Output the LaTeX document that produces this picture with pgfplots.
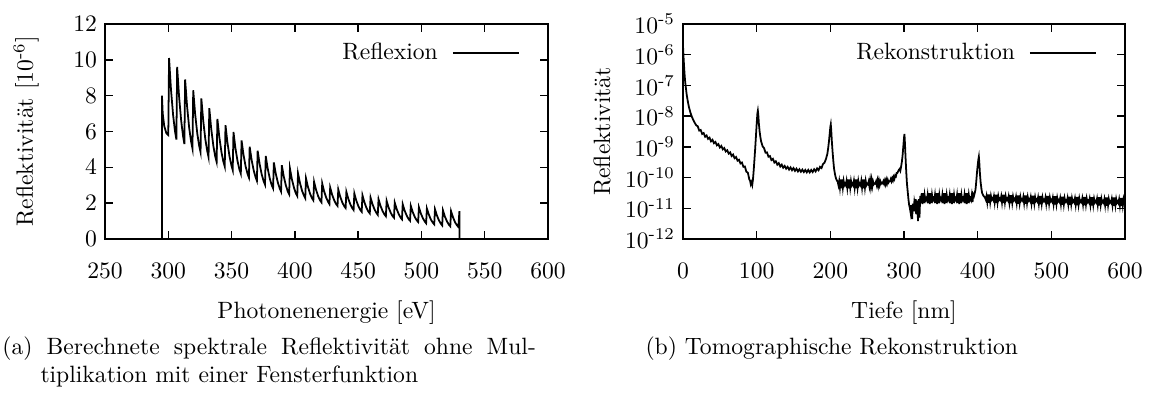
\documentclass[border=0pt]{standalone}
\usepackage{pgfplots}
\pgfplotsset{compat=1.18}
\pgfplotsset{gp/.style={
  scale only axis,
  axis line style={line width=0.6pt},
  every tick/.style={black, line width=0.6pt},
  major tick length=3.4pt,
  tick align=inside,
  xtick pos=both, ytick pos=both,
  yticklabel style={inner xsep=0pt, xshift=-3.2pt},
  xticklabel style={yshift=-6.8pt},
  xlabel style={at={(axis description cs:0.5,0)}, anchor=base, yshift=-33.5pt},
  legend style={draw=none, fill=none, inner sep=0pt, outer sep=0pt,
    at={(axis description cs:0.9365,0.865)}, anchor=east,
    nodes={inner sep=0pt}},
  legend plot pos=right,
  legend image code/.code={\path (0pt,0pt); \draw[##1] (6pt,0pt) -- (34pt,0pt);},
}}
\begin{document}
\begin{tikzpicture}
\useasboundingbox (0pt,0pt) rectangle (488.95pt,-166.94pt);
\begin{axis}[gp, at={(44.49pt,-101.26pt)}, anchor=south west,
  width=187.7pt, height=91.1pt,
  xmin=250, xmax=600, ymin=0, ymax=12,
  xtick={250,300,...,600}, ytick={0,2,...,12},
  xlabel={Photonenenergie [eV]},
  ylabel={Reflektivität [10\textsuperscript{-6}]},
  ylabel style={at={(axis description cs:-0.1783,0.5)}, anchor=center},
]
\addplot[black, line width=0.75pt] table[row sep=\\] {
x y\\
295 0\\ 295 8.0\\ 295.6 7.0\\ 296.8 6.3\\ 298.5 5.9\\
300.0 5.8\\ 300.6 10.1\\ 302.1 8.37\\ 303.8 6.92\\ 305.3 6.01\\
306.4 5.55\\ 307.0 9.6\\ 308.5 7.97\\ 310.2 6.59\\ 311.7 5.73\\
312.7 5.3\\ 313.3 8.9\\ 314.8 7.44\\ 316.5 6.21\\ 318.0 5.44\\
319.1 5.05\\ 319.7 8.3\\ 321.2 6.99\\ 322.9 5.89\\ 324.4 5.20\\
325.5 4.85\\ 326.1 7.85\\ 327.6 6.60\\ 329.3 5.55\\ 330.8 4.90\\
331.8 4.57\\ 332.4 7.3\\ 333.9 6.16\\ 335.6 5.20\\ 337.1 4.60\\
338.2 4.3\\ 338.8 6.7\\ 340.3 5.69\\ 342.0 4.85\\ 343.5 4.32\\
344.6 4.05\\ 345.2 6.35\\ 346.7 5.40\\ 348.4 4.60\\ 349.9 4.10\\
350.9 3.85\\ 351.5 5.97\\ 353.0 5.09\\ 354.7 4.35\\ 356.2 3.88\\
357.3 3.65\\ 357.9 5.5\\ 359.4 4.71\\ 361.1 4.05\\ 362.6 3.64\\
363.7 3.43\\ 364.3 5.15\\ 365.8 4.43\\ 367.5 3.82\\ 369.0 3.44\\
370.0 3.25\\ 370.6 4.93\\ 372.1 4.21\\ 373.8 3.61\\ 375.3 3.23\\
376.4 3.04\\ 377.0 4.63\\ 378.5 3.95\\ 380.2 3.37\\ 381.7 3.01\\
382.8 2.83\\ 383.4 4.27\\ 384.9 3.65\\ 386.6 3.14\\ 388.1 2.81\\
389.1 2.65\\ 389.7 4.12\\ 391.2 3.50\\ 392.9 2.99\\ 394.4 2.66\\
395.5 2.5\\ 396.1 3.94\\ 397.6 3.35\\ 399.3 2.86\\ 400.8 2.55\\
401.9 2.4\\ 402.5 3.66\\ 404.0 3.14\\ 405.7 2.69\\ 407.2 2.42\\
408.2 2.28\\ 408.8 3.38\\ 410.3 2.92\\ 412.0 2.53\\ 413.5 2.28\\
414.6 2.16\\ 415.2 3.19\\ 416.7 2.76\\ 418.4 2.39\\ 419.9 2.16\\
421.0 2.05\\ 421.6 3.1\\ 423.1 2.66\\ 424.8 2.30\\ 426.3 2.07\\
427.3 1.95\\ 427.9 2.87\\ 429.4 2.48\\ 431.1 2.16\\ 432.6 1.95\\
433.7 1.85\\ 434.3 2.76\\ 435.8 2.37\\ 437.5 2.04\\ 439.0 1.83\\
440.1 1.73\\ 440.7 2.63\\ 442.2 2.25\\ 443.9 1.92\\ 445.4 1.72\\
446.4 1.62\\ 447.0 2.54\\ 448.5 2.15\\ 450.2 1.83\\ 451.7 1.62\\
452.8 1.52\\ 453.4 2.44\\ 454.9 2.06\\ 456.6 1.73\\ 458.1 1.53\\
459.2 1.43\\ 459.8 2.31\\ 461.3 1.95\\ 463.0 1.64\\ 464.5 1.45\\
465.5 1.35\\ 466.1 2.22\\ 467.6 1.86\\ 469.3 1.56\\ 470.8 1.37\\
471.9 1.27\\ 472.5 2.13\\ 474.0 1.77\\ 475.7 1.47\\ 477.2 1.28\\
478.3 1.19\\ 478.9 2.03\\ 480.4 1.68\\ 482.1 1.38\\ 483.6 1.19\\
484.6 1.1\\ 485.2 1.94\\ 486.7 1.59\\ 488.4 1.30\\ 489.9 1.11\\
491.0 1.02\\ 491.6 1.85\\ 493.1 1.51\\ 494.8 1.22\\ 496.3 1.04\\
497.4 0.95\\ 498.0 1.77\\ 499.5 1.43\\ 501.2 1.15\\ 502.7 0.97\\
503.7 0.88\\ 504.3 1.7\\ 505.8 1.37\\ 507.5 1.08\\ 509.0 0.91\\
510.1 0.82\\ 510.7 1.66\\ 512.2 1.32\\ 513.9 1.03\\ 515.4 0.85\\
516.4 0.76\\ 517.0 1.6\\ 518.5 1.26\\ 520.2 0.98\\ 521.7 0.80\\
522.8 0.71\\ 523.4 1.55\\ 524.9 1.22\\ 526.6 0.93\\ 528.1 0.76\\
529.2 0.67\\ 530.0 1.55\\ 530.0 0\\
};
\legend{Reflexion}
\end{axis}
\begin{axis}[gp, at={(289.39pt,-101.26pt)}, anchor=south west,
  width=187.28pt, height=91.1pt,
  xmin=0, xmax=600, ymode=log, ymin=1e-12, ymax=1e-5,
  xtick={0,100,...,600},
  ytick={1e-12,1e-11,1e-10,1e-9,1e-8,1e-7,1e-6,1e-5},
  yticklabels={10\textsuperscript{-12},10\textsuperscript{-11},10\textsuperscript{-10},10\textsuperscript{-9},10\textsuperscript{-8},10\textsuperscript{-7},10\textsuperscript{-6},10\textsuperscript{-5}},
  yminorticks=false,
  xlabel={Tiefe [nm]},
  ylabel={Reflektivität},
  ylabel style={at={(axis description cs:-0.1833,0.5)}, anchor=center},
]
\addplot[black, line width=0.75pt] table[row sep=\\, x=x, y expr={10^(\thisrow{e})}] {
x e\\
0 -5.72\\ 1 -6.20\\ 2 -6.60\\ 3 -6.90\\ 4 -7.10\\ 5 -7.30\\ 6 -7.45\\ 7 -7.58\\ 8 -7.70\\
10 -7.88\\ 12 -8.02\\ 14 -8.13\\ 16 -8.22\\ 18 -8.30\\
20 -8.33\\ 22 -8.47\\ 24 -8.45\\ 26 -8.58\\ 28 -8.55\\ 30 -8.67\\ 32 -8.63\\ 34 -8.74\\ 36 -8.70\\ 38 -8.82\\
40 -8.77\\ 42 -8.88\\ 44 -8.84\\ 46 -8.95\\ 48 -8.91\\ 50 -9.02\\ 52 -8.97\\ 54 -9.08\\ 56 -9.04\\ 58 -9.15\\
60 -9.11\\ 62 -9.22\\ 64 -9.18\\ 66 -9.30\\ 68 -9.25\\ 70 -9.37\\ 72 -9.33\\ 74 -9.45\\ 76 -9.42\\ 78 -9.54\\
80 -9.51\\ 82 -9.65\\ 84 -9.64\\ 86 -9.81\\ 88 -9.84\\ 90 -10.06\\ 91 -10.10\\ 92 -10.22\\ 93 -10.15\\ 94 -10.24\\
95 -10.05\\ 96 -9.75\\ 97 -9.40\\ 98 -9.05\\ 99 -8.65\\ 100 -8.25\\ 101 -7.90\\ 101.6 -7.82\\ 102.2 -7.95\\
103 -8.25\\ 104 -8.50\\ 105 -8.68\\ 106 -8.82\\ 108 -8.98\\
110 -9.04\\ 112 -9.19\\ 114 -9.18\\ 116 -9.32\\ 118 -9.30\\ 120 -9.43\\ 122 -9.39\\ 124 -9.51\\ 126 -9.47\\ 128 -9.58\\
130 -9.53\\ 132 -9.64\\ 134 -9.58\\ 136 -9.68\\ 138 -9.62\\ 140 -9.71\\ 142 -9.65\\ 144 -9.74\\ 146 -9.67\\ 148 -9.76\\
150 -9.69\\ 152 -9.78\\ 154 -9.71\\ 156 -9.80\\ 158 -9.73\\ 160 -9.81\\ 162 -9.74\\ 164 -9.82\\ 166 -9.75\\ 168 -9.83\\
170 -9.75\\ 172 -9.83\\ 174 -9.75\\ 176 -9.82\\ 178 -9.73\\ 180 -9.80\\ 182 -9.70\\ 184 -9.76\\ 186 -9.65\\ 188 -9.69\\
190 -9.56\\ 192 -9.52\\ 194 -9.40\\ 196 -9.22\\ 197 -9.05\\ 198 -8.85\\ 199 -8.60\\ 200 -8.35\\ 200.6 -8.27\\ 201.2 -8.45\\
202 -8.80\\ 203 -9.15\\ 204 -9.45\\ 205 -9.70\\ 206 -9.85\\ 207 -9.97\\ 208 -10.05\\ 209 -10.10\\ 210 -10.14\\
211 -10.25\\ 212 -10.11\\ 213 -10.32\\ 214 -10.06\\ 215 -10.35\\ 216 -10.06\\ 217 -10.32\\ 218 -10.11\\ 219 -10.25\\ 220 -10.20\\
221 -10.25\\ 222 -10.11\\ 223 -10.32\\ 224 -10.06\\ 225 -10.35\\ 226 -10.06\\ 227 -10.32\\ 228 -10.11\\ 229 -10.25\\ 230 -10.20\\
231 -10.25\\ 232 -10.11\\ 233 -10.32\\ 234 -10.06\\ 235 -10.35\\ 236 -10.06\\ 237 -10.32\\ 238 -10.11\\ 239 -10.25\\ 240 -10.20\\
241 -10.25\\ 242 -10.11\\ 243 -10.32\\ 244 -10.06\\ 245 -10.35\\ 246 -10.06\\ 247 -10.32\\ 248 -10.11\\ 249 -10.25\\ 250 -10.20\\
251 -10.22\\ 252 -10.13\\ 253 -10.28\\ 254 -10.09\\ 255 -10.30\\ 256 -10.09\\ 257 -10.28\\ 258 -10.13\\ 259 -10.22\\ 260 -10.19\\
261 -10.20\\ 262 -10.13\\ 263 -10.24\\ 264 -10.10\\ 265 -10.26\\ 266 -10.10\\ 267 -10.24\\ 268 -10.13\\ 269 -10.20\\ 270 -10.17\\
271 -10.19\\ 272 -10.12\\ 273 -10.20\\ 274 -10.10\\ 275 -10.21\\ 276 -10.08\\ 277 -10.19\\ 278 -10.08\\ 279 -10.16\\ 280 -10.12\\
281 -10.12\\ 282 -10.05\\ 283 -10.12\\ 284 -10.02\\ 285 -10.09\\ 286 -9.98\\ 287 -10.04\\ 288 -9.93\\ 289 -9.96\\ 290 -9.85\\
291 -9.85\\ 292 -9.80\\ 293 -9.75\\ 294 -9.72\\ 295 -9.78\\ 296 -9.65\\ 297 -9.50\\ 298 -9.30\\ 299 -9.00\\ 300 -8.70\\
300.6 -8.58\\ 301.2 -8.85\\ 302 -9.30\\ 303 -9.80\\ 304 -10.20\\ 305 -10.45\\ 306 -10.70\\ 307 -10.90\\ 308 -11.00\\ 309 -11.15\\
310 -10.90\\ 311 -11.35\\ 312 -10.85\\ 313 -11.10\\ 314 -10.80\\ 315 -10.95\\ 316 -10.70\\ 317 -11.20\\ 318 -10.75\\ 319 -11.42\\
320 -10.70\\ 321 -11.30\\ 322 -10.60\\ 323 -10.83\\ 324 -10.51\\ 325 -10.86\\ 326 -10.51\\ 327 -10.83\\ 328 -10.57\\ 329 -10.74\\ 330 -10.68\\
331 -10.74\\ 332 -10.57\\ 333 -10.83\\ 334 -10.51\\ 335 -10.86\\ 336 -10.51\\ 337 -10.83\\ 338 -10.57\\ 339 -10.74\\ 340 -10.68\\
341 -10.74\\ 342 -10.57\\ 343 -10.83\\ 344 -10.51\\ 345 -10.86\\ 346 -10.51\\ 347 -10.83\\ 348 -10.57\\ 349 -10.74\\ 350 -10.68\\
351 -10.74\\ 352 -10.57\\ 353 -10.83\\ 354 -10.51\\ 355 -10.86\\ 356 -10.51\\ 357 -10.83\\ 358 -10.57\\ 359 -10.74\\ 360 -10.68\\
361 -10.74\\ 362 -10.57\\ 363 -10.83\\ 364 -10.51\\ 365 -10.86\\ 366 -10.51\\ 367 -10.83\\ 368 -10.57\\ 369 -10.74\\ 370 -10.68\\
371 -10.74\\ 372 -10.57\\ 373 -10.83\\ 374 -10.51\\ 375 -10.86\\ 376 -10.51\\ 377 -10.83\\ 378 -10.57\\ 379 -10.74\\ 380 -10.68\\
381 -10.74\\ 382 -10.57\\ 383 -10.83\\ 384 -10.51\\ 385 -10.86\\ 386 -10.51\\ 387 -10.83\\ 388 -10.57\\ 389 -10.74\\ 390 -10.68\\
391 -10.74\\ 392 -10.57\\ 393 -10.80\\ 394 -10.55\\ 395 -10.60\\ 396 -10.50\\ 397 -10.40\\ 398 -10.15\\ 399 -9.85\\ 400 -9.60\\
401 -9.40\\ 401.6 -9.32\\ 402.2 -9.50\\ 403 -9.85\\ 404 -10.15\\ 405 -10.35\\ 406 -10.50\\ 407 -10.55\\ 408 -10.60\\ 409 -10.62\\ 410 -10.66\\
411 -10.72\\ 412 -10.60\\ 413 -10.79\\ 414 -10.55\\ 415 -10.82\\ 416 -10.55\\ 417 -10.79\\ 418 -10.60\\ 419 -10.72\\ 420 -10.68\\
421 -10.73\\ 422 -10.61\\ 423 -10.80\\ 424 -10.56\\ 425 -10.83\\ 426 -10.56\\ 427 -10.80\\ 428 -10.61\\ 429 -10.73\\ 430 -10.69\\
431 -10.73\\ 432 -10.61\\ 433 -10.80\\ 434 -10.56\\ 435 -10.83\\ 436 -10.56\\ 437 -10.80\\ 438 -10.61\\ 439 -10.73\\ 440 -10.69\\
441 -10.74\\ 442 -10.62\\ 443 -10.81\\ 444 -10.57\\ 445 -10.84\\ 446 -10.57\\ 447 -10.81\\ 448 -10.62\\ 449 -10.74\\ 450 -10.70\\
451 -10.75\\ 452 -10.63\\ 453 -10.82\\ 454 -10.58\\ 455 -10.85\\ 456 -10.58\\ 457 -10.82\\ 458 -10.63\\ 459 -10.75\\ 460 -10.71\\
461 -10.75\\ 462 -10.63\\ 463 -10.82\\ 464 -10.58\\ 465 -10.85\\ 466 -10.58\\ 467 -10.82\\ 468 -10.63\\ 469 -10.75\\ 470 -10.71\\
471 -10.76\\ 472 -10.64\\ 473 -10.83\\ 474 -10.59\\ 475 -10.86\\ 476 -10.59\\ 477 -10.83\\ 478 -10.64\\ 479 -10.76\\ 480 -10.72\\
481 -10.77\\ 482 -10.65\\ 483 -10.84\\ 484 -10.60\\ 485 -10.87\\ 486 -10.60\\ 487 -10.84\\ 488 -10.65\\ 489 -10.77\\ 490 -10.73\\
491 -10.77\\ 492 -10.65\\ 493 -10.84\\ 494 -10.60\\ 495 -10.87\\ 496 -10.60\\ 497 -10.84\\ 498 -10.65\\ 499 -10.77\\ 500 -10.73\\
501 -10.78\\ 502 -10.66\\ 503 -10.85\\ 504 -10.61\\ 505 -10.88\\ 506 -10.61\\ 507 -10.85\\ 508 -10.66\\ 509 -10.78\\ 510 -10.74\\
511 -10.79\\ 512 -10.67\\ 513 -10.86\\ 514 -10.62\\ 515 -10.89\\ 516 -10.62\\ 517 -10.86\\ 518 -10.67\\ 519 -10.79\\ 520 -10.75\\
521 -10.79\\ 522 -10.67\\ 523 -10.86\\ 524 -10.62\\ 525 -10.89\\ 526 -10.62\\ 527 -10.86\\ 528 -10.67\\ 529 -10.79\\ 530 -10.75\\
531 -10.80\\ 532 -10.68\\ 533 -10.87\\ 534 -10.63\\ 535 -10.90\\ 536 -10.63\\ 537 -10.87\\ 538 -10.68\\ 539 -10.80\\ 540 -10.76\\
541 -10.80\\ 542 -10.68\\ 543 -10.87\\ 544 -10.63\\ 545 -10.90\\ 546 -10.63\\ 547 -10.87\\ 548 -10.68\\ 549 -10.80\\ 550 -10.76\\
551 -10.81\\ 552 -10.69\\ 553 -10.88\\ 554 -10.64\\ 555 -10.91\\ 556 -10.64\\ 557 -10.88\\ 558 -10.69\\ 559 -10.81\\ 560 -10.77\\
561 -10.81\\ 562 -10.69\\ 563 -10.88\\ 564 -10.64\\ 565 -10.91\\ 566 -10.64\\ 567 -10.88\\ 568 -10.69\\ 569 -10.81\\ 570 -10.77\\
571 -10.82\\ 572 -10.70\\ 573 -10.89\\ 574 -10.65\\ 575 -10.92\\ 576 -10.65\\ 577 -10.89\\ 578 -10.70\\ 579 -10.82\\ 580 -10.78\\
581 -10.82\\ 582 -10.70\\ 583 -10.89\\ 584 -10.65\\ 585 -10.92\\ 586 -10.65\\ 587 -10.89\\ 588 -10.70\\ 589 -10.82\\ 590 -10.78\\
591 -10.83\\ 592 -10.71\\ 593 -10.90\\ 594 -10.66\\ 595 -10.93\\ 596 -10.66\\ 597 -10.90\\ 598 -10.71\\ 599 -10.83\\ 600 -10.79\\
};
\legend{Rekonstruktion}
\end{axis}
\node[anchor=base west, inner sep=0pt] at (0.85pt,-150.0pt) {\makebox[226pt][s]{(a) Berechnete spektrale Reflektivität ohne Mul-}};
\node[anchor=base west, inner sep=0pt] at (0.85pt,-162.07pt) {\phantom{(a) }tiplikation mit einer Fensterfunktion};
\node[anchor=base west, inner sep=0pt] at (273.3pt,-150.0pt) {(b) Tomographische Rekonstruktion};
\end{tikzpicture}
\end{document}
